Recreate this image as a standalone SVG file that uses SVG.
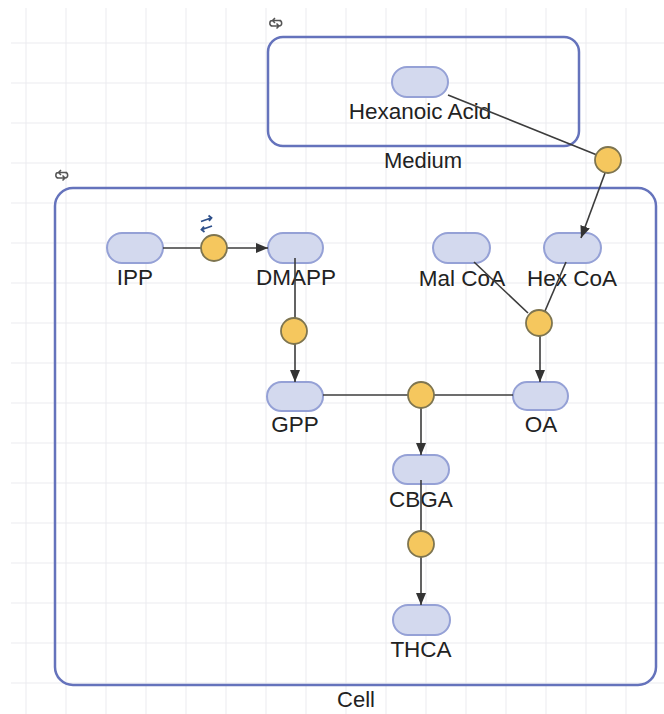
<svg xmlns="http://www.w3.org/2000/svg" width="664" height="714" viewBox="0 0 664 714">
<defs>
<style>
.grid line{stroke:#ebebef;stroke-width:1}
.comp{fill:none;stroke:#6573bc;stroke-width:2.5}
.sp{fill:#d3d9ee;stroke:#95a1d6;stroke-width:2}
.rx{fill:#f5c75e;stroke:#7e7550;stroke-width:1.8}
.lbl{font-family:"Liberation Sans",Arial,sans-serif;font-size:22.5px;fill:#222;text-anchor:middle}
.clbl{font-family:"Liberation Sans",Arial,sans-serif;font-size:22px;fill:#222;text-anchor:middle}
.edge{stroke:#3c3c3c;stroke-width:1.6;fill:none}
.icon{fill:none;stroke:#555;stroke-width:1.5}
</style>
<marker id="arr" viewBox="0 0 12 10" refX="12" refY="5" markerWidth="12" markerHeight="10" markerUnits="userSpaceOnUse" orient="auto">
<path d="M0,0 L12,5 L0,10 Z" fill="#333"/>
</marker>
</defs>
<rect width="664" height="714" fill="#fff"/>
<g class="grid">
<line x1="26" y1="8" x2="26" y2="714"/><line x1="66" y1="8" x2="66" y2="714"/><line x1="106" y1="8" x2="106" y2="714"/><line x1="146" y1="8" x2="146" y2="714"/><line x1="186" y1="8" x2="186" y2="714"/><line x1="226" y1="8" x2="226" y2="714"/><line x1="266" y1="8" x2="266" y2="714"/><line x1="306" y1="8" x2="306" y2="714"/><line x1="346" y1="8" x2="346" y2="714"/><line x1="386" y1="8" x2="386" y2="714"/><line x1="426" y1="8" x2="426" y2="714"/><line x1="466" y1="8" x2="466" y2="714"/><line x1="506" y1="8" x2="506" y2="714"/><line x1="546" y1="8" x2="546" y2="714"/><line x1="586" y1="8" x2="586" y2="714"/><line x1="626" y1="8" x2="626" y2="714"/>
<line x1="11" y1="43" x2="664" y2="43"/><line x1="11" y1="83" x2="664" y2="83"/><line x1="11" y1="123" x2="664" y2="123"/><line x1="11" y1="163" x2="664" y2="163"/><line x1="11" y1="203" x2="664" y2="203"/><line x1="11" y1="243" x2="664" y2="243"/><line x1="11" y1="283" x2="664" y2="283"/><line x1="11" y1="323" x2="664" y2="323"/><line x1="11" y1="363" x2="664" y2="363"/><line x1="11" y1="403" x2="664" y2="403"/><line x1="11" y1="443" x2="664" y2="443"/><line x1="11" y1="483" x2="664" y2="483"/><line x1="11" y1="523" x2="664" y2="523"/><line x1="11" y1="563" x2="664" y2="563"/><line x1="11" y1="603" x2="664" y2="603"/><line x1="11" y1="643" x2="664" y2="643"/><line x1="11" y1="683" x2="664" y2="683"/>
</g>
<g id="medium">
<rect class="comp" x="268" y="37" width="311" height="109" rx="15"/>
<path class="icon" d="M281,20.5 H272.5 a2.7,2.7 0 0 0 0,5.4 M275,18 L272.5,20.5 L275,23 M270.5,26 H279 a2.7,2.7 0 0 0 0,-5.4 M276.5,28.5 L279,26 L276.5,23.5"/>
<text class="clbl" x="423" y="168">Medium</text>
</g>
<g id="cell">
<rect class="comp" x="55" y="188" width="601" height="497" rx="18"/>
<path class="icon" d="M67,172.5 H58.5 a2.7,2.7 0 0 0 0,5.4 M61,170 L58.5,172.5 L61,175 M56.5,178 H65 a2.7,2.7 0 0 0 0,-5.4 M62.5,180.5 L65,178 L62.5,175.5"/>
<text class="clbl" x="356" y="707">Cell</text>
</g>
<g id="hexanoic_acid"><rect class="sp" x="392" y="67" width="56" height="30" rx="15"/><text class="lbl" x="420" y="119">Hexanoic Acid</text></g>
<g id="ipp"><rect class="sp" x="107" y="233" width="56" height="30" rx="15"/><text class="lbl" x="135" y="285">IPP</text></g>
<g id="dmapp"><rect class="sp" x="268" y="233" width="55" height="30" rx="15"/><text class="lbl" x="296" y="285">DMAPP</text></g>
<g id="mal_coa"><rect class="sp" x="433" y="233" width="57" height="30" rx="15"/><text class="lbl" x="462" y="286">Mal CoA</text></g>
<g id="hex_coa"><rect class="sp" x="544" y="233" width="57" height="30" rx="15"/><text class="lbl" x="572" y="286">Hex CoA</text></g>
<g id="gpp"><rect class="sp" x="267" y="382" width="56" height="29" rx="14.5"/><text class="lbl" x="295" y="432">GPP</text></g>
<g id="oa"><rect class="sp" x="513" y="382" width="55" height="28" rx="14"/><text class="lbl" x="541" y="432">OA</text></g>
<g id="cbga"><rect class="sp" x="393" y="455" width="56" height="29" rx="14.5"/><text class="lbl" x="421" y="507">CBGA</text></g>
<g id="thca"><rect class="sp" x="393" y="605" width="57" height="30" rx="15"/><text class="lbl" x="421" y="657">THCA</text></g>
<g id="connectors">
<path class="edge" d="M448,95 L597,155"/>
<path class="edge" d="M605,173 L581,238" marker-end="url(#arr)"/>
<path class="edge" d="M163,248 L201,248"/>
<path class="edge" d="M227,248 L268,248" marker-end="url(#arr)"/>
<path class="edge" d="M295,258 L295,318"/>
<path class="edge" d="M295,344 L295,382" marker-end="url(#arr)"/>
<path class="edge" d="M474,262 L528,313"/>
<path class="edge" d="M566,262 L545,311"/>
<path class="edge" d="M540,336 L540,382" marker-end="url(#arr)"/>
<path class="edge" d="M323,395 L408,395"/>
<path class="edge" d="M434,395 L513,395"/>
<path class="edge" d="M421,408 L421,455" marker-end="url(#arr)"/>
<path class="edge" d="M421,480 L421,531"/>
<path class="edge" d="M421,557 L421,605" marker-end="url(#arr)"/>
</g>
<g id="r_transport"><circle class="rx" cx="608" cy="160" r="13"/></g>
<g id="r_isomerase">
<circle class="rx" cx="214" cy="248" r="13"/>
<path d="M201,221.5 L211,218 M208.5,215.5 L211.5,217.8 L209,220.8 M212,226 L202,229.5 M204.5,232 L201.5,229.7 L204,226.7" fill="none" stroke="#2d4f8a" stroke-width="1.8"/>
</g>
<g id="r_gpp"><circle class="rx" cx="294" cy="331" r="13"/></g>
<g id="r_oa"><circle class="rx" cx="539" cy="323" r="13"/></g>
<g id="r_cbga"><circle class="rx" cx="421" cy="395" r="13"/></g>
<g id="r_thca"><circle class="rx" cx="421" cy="544" r="13"/></g>
</svg>
